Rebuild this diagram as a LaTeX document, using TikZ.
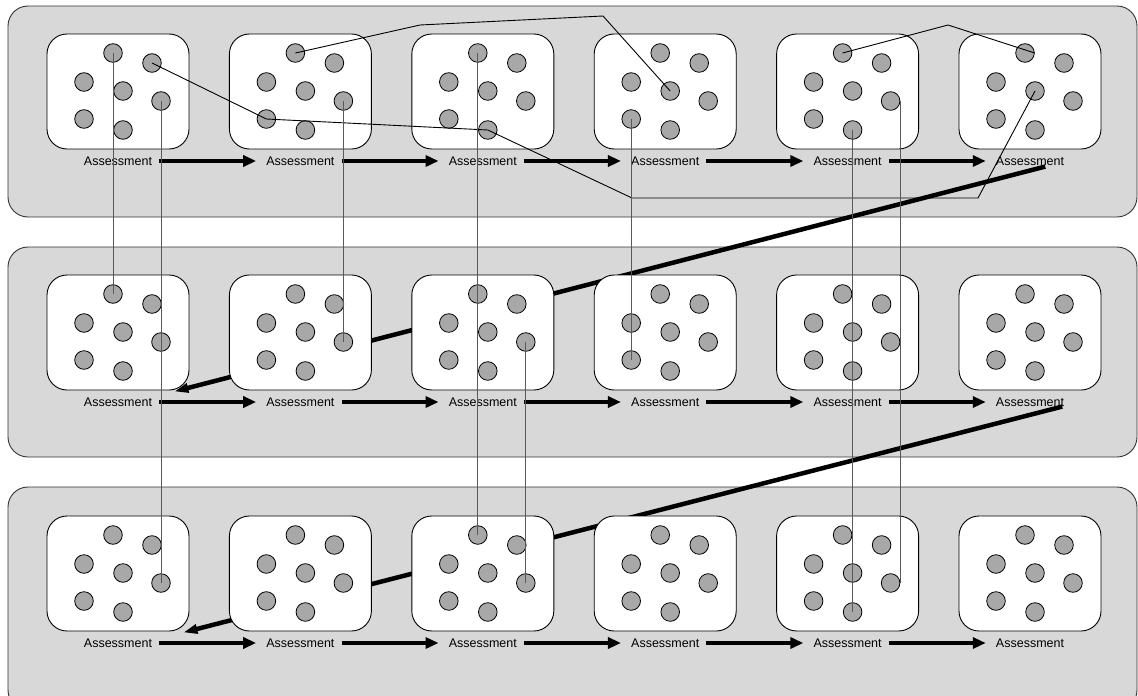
\documentclass[tikz,border=0pt]{standalone}
\usepackage{fontspec}
\setmainfont{Liberation Sans}
\usetikzlibrary{calc,arrows.meta}
\definecolor{panelgray}{HTML}{D8D8D8}
\definecolor{dotgray}{HTML}{A8A8A8}
\pgfdeclarelayer{bg}
\pgfsetlayers{bg,main}

\begin{document}
\begin{tikzpicture}[x=1pt,y=-1pt,
  panel/.style={draw=black!80,fill=panelgray,rounded corners=20pt,line width=0.9pt},
  stagebox/.style={draw=black,fill=white,rounded corners=20pt,minimum width=142pt,minimum height=115pt,inner sep=0pt,line width=0.9pt},
  dot/.style={circle,draw=black,fill=dotgray,minimum size=18.6pt,inner sep=0pt,line width=0.8pt},
  asstext/.style={inner sep=0pt,font=\fontsize{12.5}{15}\selectfont},
  flowarrow/.style={line width=4pt,-{Triangle[length=13pt,width=11pt]},shorten <=7pt,shorten >=10pt},
  backarrow/.style={line width=4.5pt,-{Triangle[length=14pt,width=9pt]}},
  tie/.style={black,line width=0.9pt},
  drop/.style={black!65,line width=1pt}]
  \useasboundingbox (0,0) rectangle (1138,696);

  % grid of the boxes (pixel units, y down)
  \def\Xo{118}   \def\Xs{182.4}
  \def\Yo{91.5}  \def\Ys{241}

  % three grey bands
  \begin{pgfonlayer}{bg}
    \foreach \r/\top/\bot in {1/6/217, 2/247/457, 3/487/710}{
      \draw[panel] (8,\top) rectangle (1137,\bot);
    }
  \end{pgfonlayer}

  % boxes, labels and the seven dots of each box
  \foreach \r in {1,2,3}{
    \foreach \c in {1,...,6}{
      \pgfmathsetmacro{\bx}{\Xo+\Xs*(\c-1)}
      \pgfmathsetmacro{\by}{\Yo+\Ys*(\r-1)}
      \node[stagebox] (b\r\c) at (\bx,\by) {};
      \node[asstext] (l\r\c) at (\bx,\by+69.5) {Assessment};
      \foreach \k/\dx/\dy in {1/-5/-38.5, 2/34/-28.5, 3/-34/-9.5, 4/5/-0.5,
                              5/43/9.5, 6/-34/27.5, 7/5/38.5}{
        \node[dot] (c\r\c\k) at (\bx+\dx,\by+\dy) {};
      }
    }
  }

  % arrows along each row
  \foreach \r in {1,2,3}{
    \foreach \c [count=\n from 2] in {1,...,5}{
      \draw[flowarrow] (l\r\c) -- (l\r\n);
    }
  }

  % long arrows back to the start of the next row
  \coordinate (r1out) at ($(l16.south east)+(-19,1)$);
  \coordinate (r2in)  at ($(b21.south east)+(-15,1)$);
  \coordinate (r2out) at ($(l26.south east)+(-2,0)$);
  \coordinate (r3in)  at ($(b31.south east)+(-6,1)$);
  \begin{pgfonlayer}{bg}
    \draw[backarrow] (r1out) -- (r2in);
    \draw[backarrow] (r2out) -- (r3in);
  \end{pgfonlayer}

  % thin links inside the first row
  \coordinate (t1) at (632,198);
  \coordinate (t2) at (978,198);
  \coordinate (t3) at (420,25);
  \coordinate (t4) at (603,16);
  \coordinate (t5) at (948,25);
  \draw[tie] (c112.center) -- (c126.center) -- (c137.center) -- (t1) -- (t2) -- (c164.center);
  \draw[tie] (c121.center) -- (t3) -- (t4) -- (c144.center);
  \draw[tie] (c151.center) -- (t5) -- (c161.east);

  % vertical links between rows
  \foreach \a/\b in {c111/c211, c115/c315, c125/c225, c131/c331,
                     c146/c246, c157/c357, c235/c335}{
    \draw[drop] (\a.center) -- (\b.center);
  }
  \draw[drop] (c155.east) -- (c355.east);
\end{tikzpicture}
\end{document}
